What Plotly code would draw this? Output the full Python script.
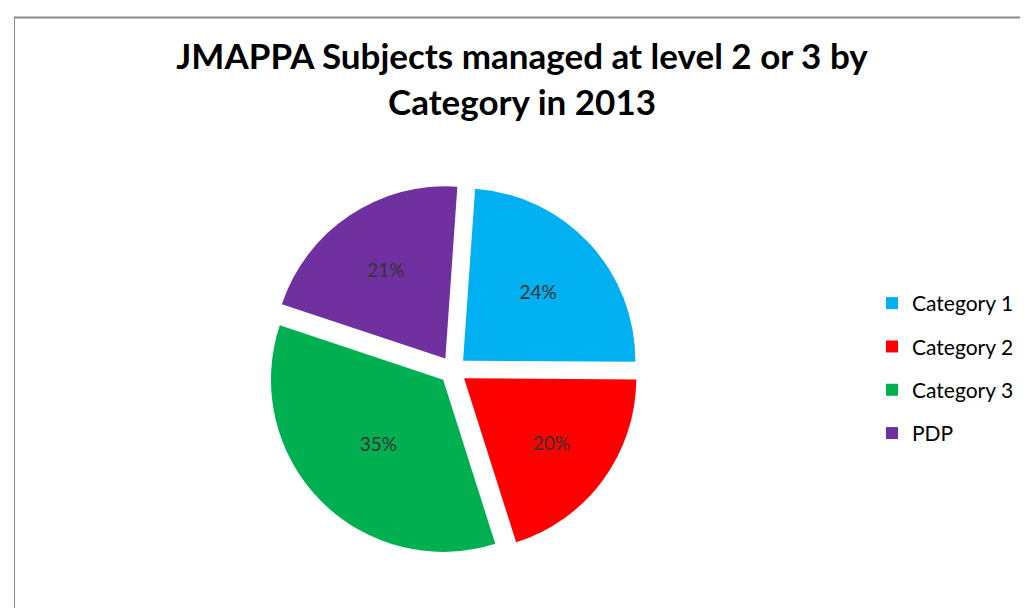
import plotly.graph_objects as go

categories = ["Category 1", "Category 2", "Category 3", "PDP"]
values = [24, 20, 35, 21]
colors = ["#00B0F0", "#FF0000", "#00B050", "#7030A0"]
title_text = "<b>JMAPPA Subjects managed at level 2 or 3 by<br>Category in 2013</b>"

W, H = 1028, 608
FONT = "Lato, Carlito, sans-serif"

fig = go.Figure()
fig.add_trace(go.Pie(
    labels=categories,
    values=values,
    sort=False,
    direction="clockwise",
    rotation=4,
    pull=[0.08, 0.08, 0.08, 0.08],
    marker=dict(colors=colors, line=dict(width=0)),
    texttemplate="%{percent:.0%}",
    textposition="inside",
    insidetextorientation="horizontal",
    textfont=dict(family=FONT, size=19, color="#333333"),
    domain=dict(x=[235 / W, 655 / W], y=[1 - 548 / H, 1 - 176 / H]),
    hovertemplate="%{label}: %{percent:.0%}<extra></extra>",
    showlegend=False,
))

# legend entries (one per category) so that row spacing can be set
for name, col in zip(categories, colors):
    fig.add_trace(go.Scatter(
        x=[None], y=[None], mode="markers", name=name, legendgroup=name,
        marker=dict(symbol="square", size=12, color=col),
        hoverinfo="skip",
    ))

fig.update_layout(
    width=W, height=H,
    margin=dict(l=0, r=0, t=0, b=0),
    paper_bgcolor="white",
    plot_bgcolor="white",
    xaxis=dict(visible=False),
    yaxis=dict(visible=False),
    title=dict(
        text=title_text,
        font=dict(family=FONT, size=35, color="#000000"),
        x=0.5, xanchor="center", xref="paper",
        y=1 - 61 / H, yanchor="top", yref="paper",
    ),
    legend=dict(
        x=864 / W, y=1 - 275 / H, xanchor="left", yanchor="top",
        tracegroupgap=13,
        font=dict(family=FONT, size=21, color="#000000"),
        bgcolor="rgba(0,0,0,0)",
    ),
    shapes=[
        dict(type="line", xref="paper", yref="paper", x0=6 / W, x1=1, y0=1 - 9.5 / H, y1=1 - 9.5 / H,
             line=dict(color="#888888", width=2)),
        dict(type="line", xref="paper", yref="paper", x0=6.5 / W, x1=6.5 / W, y0=0, y1=1 - 9 / H,
             line=dict(color="#888888", width=1)),
    ],
)

fig.write_html("out.html")
